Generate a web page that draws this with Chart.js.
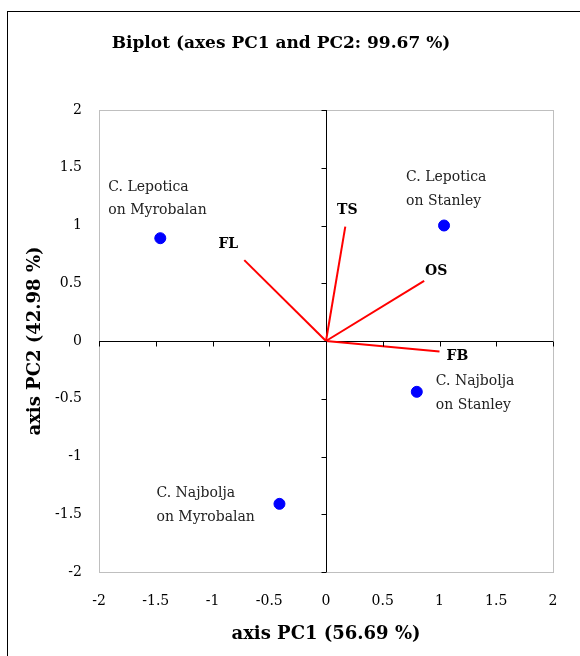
<!DOCTYPE html>
<html>
<head>
<meta charset="utf-8">
<script src="https://cdn.jsdelivr.net/npm/chart.js@4"></script>
<style>
  html, body { margin: 0; padding: 0; background: #fff; }
  #wrap { width: 580px; height: 656px; }
</style>
</head>
<body>
<div id="wrap"><canvas id="biplot" width="580" height="656"></canvas></div>
<script>
// observations (PC1, PC2)
const obsNames = [
    ['C. Lepotica', 'on Myrobalan'],
    ['C. Lepotica', 'on Stanley'],
    ['C. Najbolja', 'on Stanley'],
    ['C. Najbolja', 'on Myrobalan']
];
const obsX = [-1.46, 1.04, 0.80, -0.41];
const obsY = [0.89, 1.00, -0.44, -1.41];

// variable vectors
const varNames = ['FL', 'TS', 'OS', 'FB'];
const varX = [-0.72, 0.17, 0.865, 1.00];
const varY = [0.70, 0.99, 0.52, -0.09];

const axisTicks = [-2, -1.5, -1, -0.5, 0, 0.5, 1, 1.5, 2];

const titleText = 'Biplot (axes PC1 and PC2: 99.67 %)';
const xTitle = 'axis PC1 (56.69 %)';
const yTitle = 'axis PC2 (42.98 %)';

// label placement relative to the marker (pixels)
const obsLabelOffset = [[-52, -51], [-38, -48], [19, -10], [-123, -10]];
const varLabelOffset = [[-16, -16], [2, -16], [12, -10], [18, 5]];

const serif = '"DejaVu Serif", serif';

const vectorSets = varNames.map((n, i) => ({
    type: 'line',
    label: n,
    data: [{ x: 0, y: 0 }, { x: varX[i], y: varY[i] }],
    borderColor: '#ff0000',
    borderWidth: 2,
    pointRadius: 0,
    fill: false
}));

const decor = {
    id: 'decor',
    beforeDraw(chart) {
        const c = chart.ctx;
        const a = chart.chartArea;
        c.save();
        c.fillStyle = '#fff';
        c.fillRect(0, 0, chart.width, chart.height);
        c.strokeStyle = '#000';
        c.lineWidth = 1;
        c.strokeRect(7.5, 11.5, 700, 700);
        c.strokeStyle = '#bfbfbf';
        c.strokeRect(a.left + 0.5, a.top + 0.5, a.right - a.left, a.bottom - a.top);
        c.restore();
    },
    afterDraw(chart) {
        const c = chart.ctx;
        const a = chart.chartArea;
        const xs = chart.scales.x, ys = chart.scales.y;
        const x0 = Math.round(xs.getPixelForValue(0)) + 0.5;
        const y0 = Math.round(ys.getPixelForValue(0)) + 0.5;
        c.save();
        // small tick marks on the zero axes
        c.strokeStyle = '#000';
        c.lineWidth = 1;
        c.beginPath();
        axisTicks.forEach(t => {
            const py = Math.round(ys.getPixelForValue(t)) + 0.5;
            c.moveTo(x0 - 5, py); c.lineTo(x0, py);
            const px = Math.round(xs.getPixelForValue(t)) + 0.5;
            c.moveTo(px, y0); c.lineTo(px, y0 + 5);
        });
        c.stroke();

        c.fillStyle = '#000';
        c.textAlign = 'center';
        c.textBaseline = 'middle';
        c.font = 'bold 17px ' + serif;
        c.fillText(titleText, 281, 44);
        c.font = 'bold 18px ' + serif;
        c.fillText(xTitle, (a.left + a.right) / 2, 634);
        c.save();
        c.translate(35, (a.top + a.bottom) / 2);
        c.rotate(-Math.PI / 2);
        c.fillText(yTitle, 0, 0);
        c.restore();

        // variable labels
        c.font = 'bold 14px ' + serif;
        varNames.forEach((n, i) => {
            const px = xs.getPixelForValue(varX[i]);
            const py = ys.getPixelForValue(varY[i]);
            c.fillText(n, px + varLabelOffset[i][0], py + varLabelOffset[i][1]);
        });

        // observation labels
        c.font = '14px ' + serif;
        c.fillStyle = '#222';
        c.textAlign = 'left';
        obsNames.forEach((lines, i) => {
            const px = xs.getPixelForValue(obsX[i]);
            const py = ys.getPixelForValue(obsY[i]);
            lines.forEach((t, k) => {
                c.fillText(t, px + obsLabelOffset[i][0], py + obsLabelOffset[i][1] + k * 23.5);
            });
        });
        c.restore();
    }
};

const zeroLine = ctx => (ctx.tick && ctx.tick.value === 0) ? '#000' : 'rgba(0,0,0,0)';

new Chart(document.getElementById('biplot'), {
    type: 'scatter',
    data: {
        datasets: [
            ...vectorSets,
            {
                type: 'scatter',
                label: 'observations',
                data: obsX.map((x, i) => ({ x: x, y: obsY[i] })),
                backgroundColor: '#0000ff',
                borderColor: '#0000ff',
                pointRadius: 5.5,
                borderWidth: 1
            }
        ]
    },
    plugins: [decor],
    options: {
        responsive: false,
        animation: false,
        layout: { padding: { left: 0, right: 27, top: 110, bottom: 0 } },
        plugins: {
            legend: { display: false },
            title: { display: false },
            tooltip: { enabled: false }
        },
        scales: {
            x: {
                type: 'linear',
                min: -2, max: 2,
                afterBuildTicks: s => { s.ticks = axisTicks.map(v => ({ value: v })); },
                afterFit: s => { s.height = 84; },
                border: { display: false },
                grid: { color: zeroLine, drawTicks: false, lineWidth: 1 },
                ticks: {
                    padding: 21,
                    color: '#000',
                    font: { family: serif, size: 14 },
                    maxRotation: 0,
                    callback: v => String(v)
                }
            },
            y: {
                type: 'linear',
                min: -2, max: 2,
                afterBuildTicks: s => { s.ticks = axisTicks.map(v => ({ value: v })); },
                afterFit: s => { s.width = 99; },
                border: { display: false },
                grid: { color: zeroLine, drawTicks: false, lineWidth: 1 },
                ticks: {
                    padding: 17,
                    color: '#000',
                    font: { family: serif, size: 14 },
                    callback: v => String(v)
                }
            }
        }
    }
});
</script>
</body>
</html>
